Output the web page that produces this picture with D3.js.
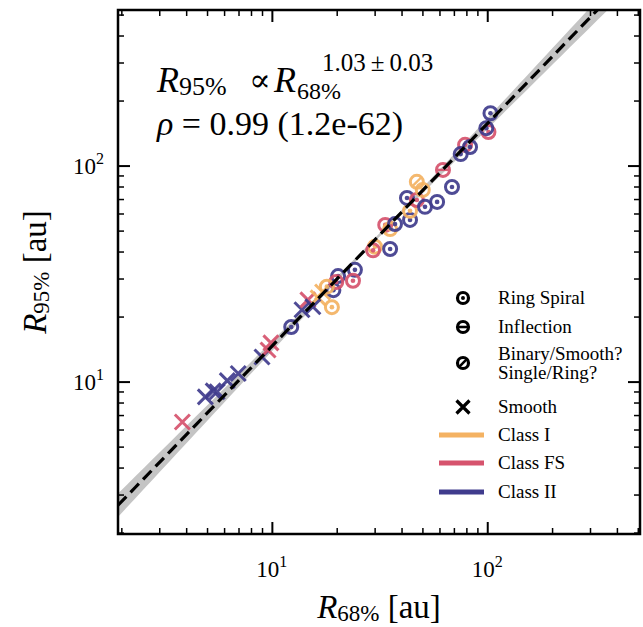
<!DOCTYPE html>
<html>
<head>
<meta charset="utf-8">
<script src="https://cdn.jsdelivr.net/npm/d3@7"></script>
<style>
  body { margin: 0; background: #fff; }
  text { font-family: "Liberation Serif", "Times New Roman", "DejaVu Serif", serif; fill: #000; }
</style>
</head>
<body>
<svg id="chart" width="643" height="627"></svg>
<script>
// Data (R68%, R95% in au)
const r68 = [3.84, 4.91, 5.34, 5.57, 6.21, 6.98, 9.0, 9.6, 9.9, 12.3,
             13.8, 14.7, 16.4, 15.5, 17.2, 19.0, 19.3, 20.3, 19.9, 24.3,
             23.8, 18.0, 30.1, 29.5, 35.4, 33.6, 35.4, 37.3, 43.8, 43.8,
             42.4, 47.1, 51.4, 58.5, 68.6, 47.1, 50.2, 62.3, 78.9, 83.2,
             75.3, 103.5, 101.3, 99.0];
const r95 = [6.5, 8.5, 9.06, 8.97, 10.1, 10.9, 13.0, 14.0, 15.1, 17.9,
             21.5, 23.9, 24.4, 22.2, 26.0, 22.1, 26.5, 30.8, 28.9, 32.9,
             29.3, 27.5, 42.1, 40.5, 41.1, 53.1, 50.8, 53.6, 56.0, 61.7,
             70.8, 69.3, 64.4, 67.9, 79.6, 84.1, 77.1, 95.5, 124.7, 121.9,
             113, 174.7, 143, 149];
const cls = ["FS", "II", "II", "II", "II", "II", "II", "FS", "FS", "II",
             "II", "FS", "I", "II", "I", "I", "II", "II", "FS", "II",
             "FS", "I", "I", "FS", "II", "FS", "I", "II", "II", "I",
             "II", "FS", "II", "II", "II", "I", "I", "FS", "FS", "II",
             "II", "II", "FS", "II"];
const morph = ["smooth", "smooth", "smooth", "smooth", "smooth", "smooth", "smooth", "smooth", "smooth", "ring",
               "smooth", "smooth", "smooth", "smooth", "smooth", "ring", "ring", "ring", "ring", "ring",
               "ring", "ring", "ring", "ring", "ring", "ring", "ring", "ring", "ring", "ring",
               "ring", "ring", "ring", "ring", "ring", "binary", "ring", "infl", "ring", "ring",
               "ring", "ring", "ring", "ring"];

// power-law fit R95 = norm * R68^slope
const fitSlope = 1.03, fitSlopeErr = 0.03, fitNorm = 1.36, fitPivot = 30, fitNormErr = 0.008;

const classColor = { "I": "#f4b262", "FS": "#d6536d", "II": "#403c8d" };
const legendMorph = [["ring", "Ring Spiral"], ["infl", "Inflection"], ["binary", "Binary/Smooth?|Single/Ring?"], ["smooth", "Smooth"]];
const legendClass = [["I", "Class I"], ["FS", "Class FS"], ["II", "Class II"]];

const majorTicks = [10, 100];
const minorTicks = [2, 3, 4, 5, 6, 7, 8, 9, 20, 30, 40, 50, 60, 70, 80, 90, 200, 300, 400, 500];

const svg = d3.select("#chart");
const pLeft = 118, pRight = 640, pTop = 10, pBottom = 534;

const x = d3.scaleLog().domain([1.93, 512]).range([pLeft, pRight]);
const y = d3.scaleLog().domain([1.97, 525]).range([pBottom, pTop]);

// confidence band + fit line
const xs = d3.range(0, 61).map(i => Math.pow(10, Math.log10(1.93) + i * (Math.log10(512) - Math.log10(1.93)) / 60));
const fitLog = v => Math.log10(fitNorm) + fitSlope * Math.log10(v);
const halfW = v => Math.sqrt(fitNormErr ** 2 + (1.5 * fitSlopeErr * (Math.log10(v) - Math.log10(fitPivot))) ** 2);

svg.append("clipPath").attr("id", "clip")
  .append("rect").attr("x", pLeft).attr("y", pTop).attr("width", pRight - pLeft).attr("height", pBottom - pTop);

const plot = svg.append("g").attr("clip-path", "url(#clip)");

plot.append("path")
  .datum(xs)
  .attr("d", d3.area()
    .x(d => x(d))
    .y0(d => y(Math.pow(10, fitLog(d) - halfW(d))))
    .y1(d => y(Math.pow(10, fitLog(d) + halfW(d)))))
  .attr("fill", "#c4c4c4");

// points
const pts = plot.selectAll("g.pt").data(r68.map((v, i) => ({ x: v, y: r95[i], c: cls[i], m: morph[i] })))
  .enter().append("g")
  .attr("class", "pt")
  .attr("transform", d => `translate(${x(d.x)},${y(d.y)})`);

function drawMarker(g, m, color, r, sw) {
  if (m === "smooth") {
    const s = r + 1;
    g.append("path").attr("d", `M${-s},${-s}L${s},${s}M${-s},${s}L${s},${-s}`)
      .attr("stroke", color).attr("stroke-width", sw).attr("fill", "none");
    return;
  }
  g.append("circle").attr("r", r).attr("fill", "none").attr("stroke", color).attr("stroke-width", sw);
  if (m === "ring") g.append("circle").attr("r", r * 0.36).attr("fill", color);
  if (m === "infl") g.append("path").attr("d", `M${-r},0L${r},0`).attr("stroke", color).attr("stroke-width", sw * 0.8);
  if (m === "binary") {
    const k = r * 0.7;
    g.append("path").attr("d", `M${-k},${k}L${k},${-k}`).attr("stroke", color).attr("stroke-width", sw * 0.8);
  }
}

pts.each(function (d) {
  drawMarker(d3.select(this), d.m, classColor[d.c], 6.5, 3);
});
pts.attr("opacity", 0.92);

plot.append("path")
  .datum(xs)
  .attr("d", d3.line().x(d => x(d)).y(d => y(Math.pow(10, fitLog(d)))))
  .attr("fill", "none")
  .attr("stroke", "#000")
  .attr("stroke-width", 3.2)
  .attr("stroke-dasharray", "12,6");

// ticks on all four sides, pointing inward
function addTicks(axisFn, scale, vals, size, width, transform) {
  svg.append("g").attr("transform", transform)
    .call(axisFn(scale).tickValues(vals).tickSize(-size).tickFormat(""))
    .call(g => g.select(".domain").remove())
    .call(g => g.selectAll("line").attr("stroke", "#000").attr("stroke-width", width));
}
addTicks(d3.axisBottom, x, majorTicks, 12, 2, `translate(0,${pBottom})`);
addTicks(d3.axisBottom, x, minorTicks, 6, 1.5, `translate(0,${pBottom})`);
addTicks(d3.axisTop, x, majorTicks, 12, 2, `translate(0,${pTop})`);
addTicks(d3.axisTop, x, minorTicks, 6, 1.5, `translate(0,${pTop})`);
addTicks(d3.axisLeft, y, majorTicks, 12, 2, `translate(${pLeft},0)`);
addTicks(d3.axisLeft, y, minorTicks, 6, 1.5, `translate(${pLeft},0)`);
addTicks(d3.axisRight, y, majorTicks, 12, 2, `translate(${pRight},0)`);
addTicks(d3.axisRight, y, minorTicks, 6, 1.5, `translate(${pRight},0)`);

svg.append("rect")
  .attr("x", pLeft).attr("y", pTop).attr("width", pRight - pLeft).attr("height", pBottom - pTop)
  .attr("fill", "none").attr("stroke", "#000").attr("stroke-width", 2.5);

// tick labels
majorTicks.forEach(v => {
  const p = Math.round(Math.log10(v));
  const tx = svg.append("text").attr("x", x(v)).attr("y", 577).attr("font-size", 23).attr("text-anchor", "middle");
  tx.append("tspan").text("10");
  tx.append("tspan").attr("font-size", 16).attr("dy", -10).text(p);
  const ty = svg.append("text").attr("x", 104).attr("y", y(v) + 8).attr("font-size", 23).attr("text-anchor", "end");
  ty.append("tspan").text("10");
  ty.append("tspan").attr("font-size", 16).attr("dy", -10).text(p);
});

// axis labels
const xl = svg.append("text").attr("x", (pLeft + pRight) / 2).attr("y", 618).attr("font-size", 33).attr("text-anchor", "middle");
xl.append("tspan").attr("font-style", "italic").text("R");
xl.append("tspan").attr("font-size", 23).attr("dy", 3).text("68%");
xl.append("tspan").attr("dy", -3).text(" [au]");

const yl = svg.append("text").attr("transform", `translate(46,${(pTop + pBottom) / 2}) rotate(-90)`)
  .attr("font-size", 33).attr("text-anchor", "middle");
yl.append("tspan").attr("font-style", "italic").text("R");
yl.append("tspan").attr("font-size", 23).attr("dy", 3).text("95%");
yl.append("tspan").attr("dy", -3).text(" [au]");

// fit annotation
svg.append("text").attr("x", 157).attr("y", 92).attr("font-size", 36).attr("font-style", "italic").text("R");
svg.append("text").attr("x", 179).attr("y", 95).attr("font-size", 26).text("95%");
svg.append("text").attr("x", 249).attr("y", 91).attr("font-size", 32).text("∝");
svg.append("text").attr("x", 274).attr("y", 92).attr("font-size", 36).attr("font-style", "italic").text("R");
svg.append("text").attr("x", 297).attr("y", 99).attr("font-size", 24).text("68%");
svg.append("text").attr("x", 322).attr("y", 71).attr("font-size", 25).text(`${fitSlope.toFixed(2)}\u2009±\u2009${fitSlopeErr.toFixed(2)}`);

const rho = svg.append("text").attr("x", 157).attr("y", 135).attr("font-size", 34);
rho.append("tspan").attr("font-style", "italic").text("ρ");
rho.append("tspan").text(" = 0.99 (1.2e-62)");

// legend
const lg = svg.append("g");
const morphRows = [298, 327, 363, 407];
legendMorph.forEach(([m, label], i) => {
  const g = lg.append("g").attr("transform", `translate(463,${morphRows[i]})`);
  drawMarker(g, m, "#000", 5.5, 3.2);
  const lines = label.split("|");
  lines.forEach((t, j) => {
    lg.append("text").attr("x", 498).attr("y", morphRows[i] + 6 + (j - (lines.length - 1) / 2) * 19)
      .attr("font-size", 19).text(t);
  });
});
const classRows = [435, 463, 492];
legendClass.forEach(([c, label], i) => {
  lg.append("line").attr("x1", 439).attr("x2", 484).attr("y1", classRows[i]).attr("y2", classRows[i])
    .attr("stroke", classColor[c]).attr("stroke-width", 5);
  lg.append("text").attr("x", 498).attr("y", classRows[i] + 6).attr("font-size", 19).text(label);
});
</script>
</body>
</html>
